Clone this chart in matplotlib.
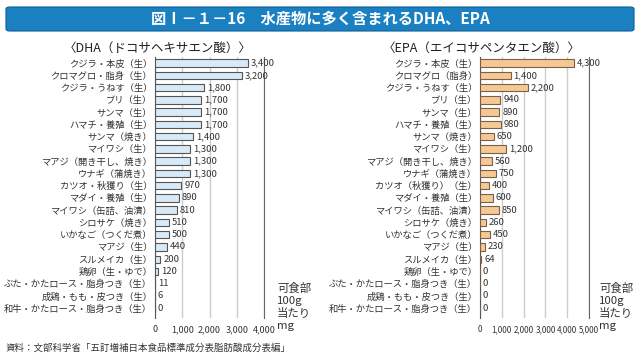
import matplotlib
matplotlib.use('Agg')
import matplotlib.pyplot as plt
from matplotlib.patches import FancyBboxPatch

plt.rcParams['font.family'] = ['Noto Sans CJK JP', 'DejaVu Sans']

# data
dha_labels = ['クジラ・本皮（生）', 'クロマグロ・脂身（生）', 'クジラ・うねす（生）', 'ブリ（生）',
              'サンマ（生）', 'ハマチ・養殖（生）', 'サンマ（焼き）', 'マイワシ（生）',
              'マアジ（開き干し、焼き）', 'ウナギ（蒲焼き）', 'カツオ・秋獲り（生）', 'マダイ・養殖（生）',
              'マイワシ（缶詰、油漬）', 'シロサケ（焼き）', 'いかなご（つくだ煮）', 'マアジ（生）',
              'スルメイカ（生）', '鶏卵（生・ゆで）', 'ぶた・かたロース・脂身つき（生）',
              '成鶏・もも・皮つき（生）', '和牛・かたロース・脂身つき（生）']
dha_values = [3400, 3200, 1800, 1700, 1700, 1700, 1400, 1300, 1300, 1300,
              970, 890, 810, 510, 500, 440, 200, 120, 11, 6, 0]

epa_labels = ['クジラ・本皮（生）', 'クロマグロ（脂身）', 'クジラ・うねす（生）', 'ブリ（生）',
              'サンマ（生）', 'ハマチ・養殖（生）', 'サンマ（焼き）', 'マイワシ（生）',
              'マアジ（開き干し、焼き）', 'ウナギ（蒲焼き）', 'カツオ（秋獲り）（生）', 'マダイ・養殖（生）',
              'マイワシ（缶詰、油漬）', 'シロサケ（焼き）', 'いかなご（つくだ煮）', 'マアジ（生）',
              'スルメイカ（生）', '鶏卵（生・ゆで）', 'ぶた・かたロース・脂身つき（生）',
              '成鶏・もも・皮つき（生）', '和牛・かたロース・脂身つき（生）']
epa_values = [4300, 1400, 2200, 940, 890, 980, 650, 1200, 560, 750,
              400, 600, 850, 260, 450, 230, 64, 0, 0, 0, 0]

dha_ticks = [0, 1000, 2000, 3000, 4000]
epa_ticks = [0, 1000, 2000, 3000, 4000, 5000]
unit_lines = ['可食部', '100g', '当たり', 'mg']

fig = plt.figure(figsize=(6.4, 3.56), dpi=100)
W, H = 640, 356

# title banner
banner = FancyBboxPatch((6 / W, 1 - 31 / H), 628 / W, 24 / H,
                        boxstyle='round,pad=0,rounding_size=0.006',
                        transform=fig.transFigure, facecolor='#1a80c2',
                        edgecolor='#0d5e96', linewidth=0.8)
fig.patches.append(banner)
fig.text(0.5, 1 - 19 / H, '図Ⅰ－１－16　水産物に多く含まれるDHA、EPA',
         ha='center', va='center', color='white', fontsize=11, fontweight='bold')


def panel(rect, labels, values, ticks, face, edge, subtitle, sub_x, unit_x, tick_size):
    ax = fig.add_axes(rect)
    y = range(len(values))
    ax.barh(y, values, height=0.6, color=face, edgecolor=edge, linewidth=0.8, zorder=3)
    ax.set_ylim(len(values) - 0.2, -0.5)
    ax.set_xlim(ticks[0], ticks[-1])
    ax.set_yticks(list(y))
    ax.set_yticklabels(labels, fontsize=6.7, color='#333333')
    ax.set_xticks(ticks)
    ax.set_xticklabels(['{:,}'.format(t) for t in ticks], fontsize=tick_size, color='#333333')
    ax.tick_params(length=0, pad=2)
    ax.tick_params(axis='x', pad=5)
    ax.grid(axis='x', color='#cccccc', linewidth=1, zorder=0)
    for s in ['top', 'bottom']:
        ax.spines[s].set_visible(False)
    ax.spines['left'].set_color('#555555')
    ax.spines['right'].set_color('#666666')
    for yi, v in zip(y, values):
        ax.text(v + ticks[-1] * 0.025, yi, '{:,}'.format(v), va='center', ha='left',
                fontsize=6.8, color='#333333', zorder=4)
    fig.text(sub_x, 1 - 48 / H, subtitle, ha='center', va='center', fontsize=9, color='#222222')
    for i, line in enumerate(unit_lines):
        fig.text(unit_x, 1 - (288 + 12.6 * i) / H, line, ha='left', va='center',
                 fontsize=8.2, color='#333333')
    return ax


panel([155 / W, 1 - 318 / H, 109 / W, 261 / H], dha_labels, dha_values, dha_ticks,
      '#d8eaf7', '#555555', '〈DHA（ドコサヘキサエン酸）〉', 158 / W, 277 / W, 6.5)
panel([480 / W, 1 - 318 / H, 109 / W, 261 / H], epa_labels, epa_values, epa_ticks,
      '#f6c893', '#7a6048', '〈EPA（エイコサペンタエン酸）〉', 482 / W, 599 / W, 5.8)

fig.text(6 / W, 1 - 348 / H, '資料：文部科学省「五訂増補日本食品標準成分表脂肪酸成分表編」',
         ha='left', va='center', fontsize=6.8, color='#333333')

fig.savefig('out.png', dpi=100)
